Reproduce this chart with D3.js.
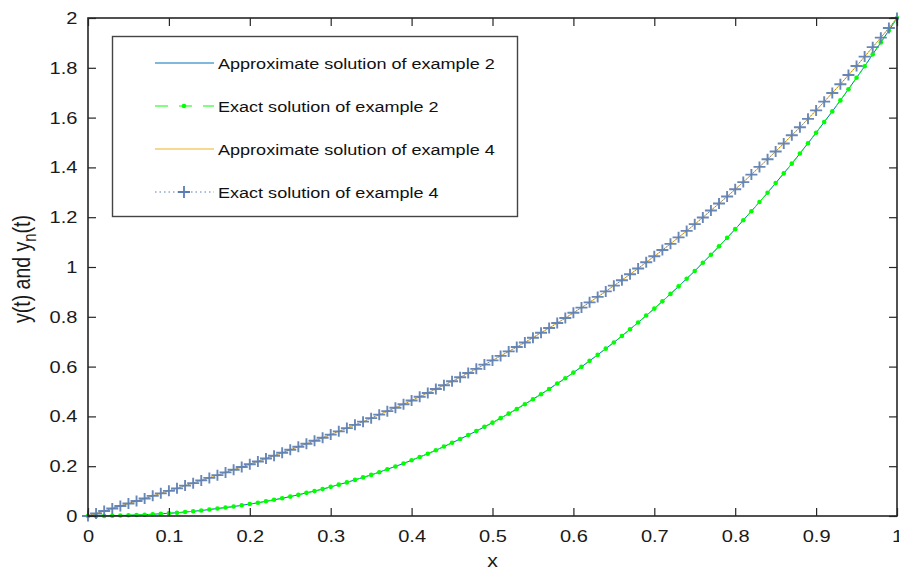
<!DOCTYPE html>
<html>
<head>
<meta charset="utf-8">
<script src="https://cdn.jsdelivr.net/npm/d3@7"></script>
<style>
  html, body { margin: 0; padding: 0; background: #fff; }
  svg { display: block; font-family: "Liberation Sans", Arial, sans-serif; }
</style>
</head>
<body>
<svg id="chart" width="899" height="572"></svg>
<script>
// Sample points t = 0, 0.01, ..., 1
const xs = d3.range(0, 101).map(i => i / 100);

// Example 2 (lower curve)
const exact2 = [
  0.000,0.000,0.000,0.001,0.002,0.003,0.004,0.005,0.007,0.009,
  0.011,0.013,0.016,0.019,0.022,0.026,0.030,0.034,0.038,0.043,
  0.048,0.053,0.059,0.065,0.071,0.078,0.085,0.093,0.100,0.108,
  0.117,0.126,0.135,0.145,0.155,0.165,0.176,0.188,0.199,0.211,
  0.224,0.237,0.250,0.264,0.279,0.294,0.309,0.325,0.341,0.358,
  0.375,0.393,0.411,0.430,0.449,0.469,0.489,0.510,0.532,0.553,
  0.576,0.599,0.623,0.647,0.672,0.697,0.723,0.750,0.777,0.805,
  0.833,0.862,0.892,0.922,0.953,0.984,1.017,1.049,1.083,1.117,
  1.152,1.188,1.224,1.261,1.298,1.337,1.376,1.415,1.456,1.497,
  1.539,1.582,1.625,1.669,1.714,1.760,1.806,1.854,1.902,1.950,
  2.000
];
const approx2 = exact2.slice();

// Example 4 (upper curve)
const exact4 = [
  0.000,0.010,0.020,0.030,0.040,0.050,0.060,0.070,0.081,0.091,
  0.101,0.111,0.122,0.132,0.143,0.153,0.164,0.175,0.186,0.197,
  0.208,0.219,0.231,0.242,0.254,0.266,0.278,0.290,0.302,0.314,
  0.327,0.340,0.353,0.366,0.379,0.393,0.407,0.421,0.435,0.449,
  0.464,0.479,0.494,0.510,0.525,0.541,0.557,0.574,0.591,0.608,
  0.625,0.643,0.661,0.679,0.697,0.716,0.736,0.755,0.775,0.795,
  0.816,0.837,0.858,0.880,0.902,0.925,0.947,0.971,0.994,1.019,
  1.043,1.068,1.093,1.119,1.145,1.172,1.199,1.227,1.255,1.283,
  1.312,1.341,1.371,1.402,1.433,1.464,1.496,1.529,1.561,1.595,
  1.629,1.664,1.699,1.734,1.771,1.807,1.845,1.883,1.921,1.960,
  2.000
];
const approx4 = exact4.slice();

const xTicks = [0, 0.1, 0.2, 0.3, 0.4, 0.5, 0.6, 0.7, 0.8, 0.9, 1];
const yTicks = [0, 0.2, 0.4, 0.6, 0.8, 1, 1.2, 1.4, 1.6, 1.8, 2];
const legendLabels = [
  "Approximate solution of example 2",
  "Exact solution of example 2",
  "Approximate solution of example 4",
  "Exact solution of example 4"
];

const colors = {
  approx2: "#0072BD",
  exact2: "#00FF00",
  approx4: "#EDB120",
  exact4: "#5a7db3"
};

// Text in this figure is drawn slightly wide
const SX = 1.18;

const svg = d3.select("#chart");
const margin = { left: 88, right: 2, top: 18, bottom: 56 };
const W = 899, H = 572;
const x = d3.scaleLinear().domain([0, 1]).range([margin.left, W - margin.right]);
const y = d3.scaleLinear().domain([0, 2]).range([H - margin.bottom, margin.top]);

const toPts = arr => arr.map((v, i) => [xs[i], v]);
const line = d3.line().x(d => x(d[0])).y(d => y(d[1]));

const plot = svg.append("g");

// Example 2: approximate (solid blue) under exact (dashed green with dots)
plot.append("path").attr("d", line(toPts(approx2)))
  .attr("fill", "none").attr("stroke", colors.approx2).attr("stroke-width", 1);
plot.append("path").attr("d", line(toPts(exact2)))
  .attr("fill", "none").attr("stroke", colors.exact2).attr("stroke-width", 1)
  .attr("stroke-dasharray", "6,4");
plot.append("g").selectAll("circle").data(toPts(exact2)).join("circle")
  .attr("cx", d => x(d[0])).attr("cy", d => y(d[1])).attr("r", 2.3)
  .attr("fill", colors.exact2);

// Example 4: approximate (solid orange) under exact (dotted with + markers)
plot.append("path").attr("d", line(toPts(approx4)))
  .attr("fill", "none").attr("stroke", colors.approx4).attr("stroke-width", 1);
plot.append("path").attr("d", line(toPts(exact4)))
  .attr("fill", "none").attr("stroke", colors.exact4).attr("stroke-width", 1)
  .attr("stroke-dasharray", "1,2");
plot.append("g").selectAll("path").data(toPts(exact4)).join("path")
  .attr("transform", d => `translate(${x(d[0])},${y(d[1])})`)
  .attr("d", "M-6,0H6M0,-5.5V5.5")
  .attr("stroke", colors.exact4).attr("stroke-width", 1.9).attr("fill", "none")
  .attr("opacity", 0.92);

// Axes box with inward ticks on all four sides
const tickLen = 8;
const axisColor = "#262626";
const axes = svg.append("g");
axes.append("rect")
  .attr("x", x(0)).attr("y", y(2))
  .attr("width", x(1) - x(0)).attr("height", y(0) - y(2))
  .attr("fill", "none").attr("stroke", axisColor).attr("stroke-width", 1.6);

const bottomAxis = d3.axisBottom(x).tickValues(xTicks).tickSize(-tickLen)
  .tickPadding(14).tickFormat(d3.format("~g"));
const topAxis = d3.axisTop(x).tickValues(xTicks).tickSize(-tickLen).tickFormat("");
const leftAxis = d3.axisLeft(y).tickValues(yTicks).tickSize(-tickLen)
  .tickPadding(9).tickFormat(d3.format("~g"));
const rightAxis = d3.axisRight(y).tickValues(yTicks).tickSize(-tickLen).tickFormat("");

function styleAxis(g) {
  g.select(".domain").remove();
  g.selectAll(".tick line").attr("stroke", axisColor).attr("stroke-width", 1.2);
  g.selectAll(".tick text").attr("fill", "#1a1a1a")
    .attr("transform", `scale(${SX},1)`)
    .style("font-size", "17px").style("font-family", "'Liberation Sans', Arial, sans-serif");
}
axes.append("g").attr("transform", `translate(0,${y(0)})`).call(bottomAxis).call(styleAxis);
axes.append("g").attr("transform", `translate(0,${y(2)})`).call(topAxis).call(styleAxis);
axes.append("g").attr("transform", `translate(${x(0)},0)`).call(leftAxis).call(styleAxis);
axes.append("g").attr("transform", `translate(${x(1)},0)`).call(rightAxis).call(styleAxis);

// Axis titles
svg.append("text")
  .attr("transform", `translate(${(x(0) + x(1)) / 2},567) scale(${SX},1)`)
  .attr("text-anchor", "middle").attr("fill", "#1a1a1a")
  .style("font-size", "18px").text("x");

const yl = svg.append("text")
  .attr("transform", `translate(30,${(y(0) + y(2)) / 2 + 2}) scale(${SX},1) rotate(-90)`)
  .attr("text-anchor", "middle").attr("fill", "#1a1a1a")
  .style("font-size", "19.5px");
yl.append("tspan").text("y(t) and y");
yl.append("tspan").attr("dy", 5).style("font-size", "15px").text("n");
yl.append("tspan").attr("dy", -5).text("(t)");

// Legend
const lg = svg.append("g");
lg.append("rect")
  .attr("x", 112.5).attr("y", 36.5).attr("width", 405).attr("height", 180)
  .attr("fill", "#fff").attr("stroke", "#444").attr("stroke-width", 1.4);
const rowY = [63, 106, 149, 192];
const sx0 = 155, sx1 = 214;
// row 1: blue solid
lg.append("line").attr("x1", sx0).attr("x2", sx1).attr("y1", rowY[0]).attr("y2", rowY[0])
  .attr("stroke", colors.approx2).attr("stroke-width", 1);
// row 2: green dashed with dot
lg.append("line").attr("x1", sx0).attr("x2", sx1).attr("y1", rowY[1]).attr("y2", rowY[1])
  .attr("stroke", colors.exact2).attr("stroke-width", 1).attr("stroke-dasharray", "13,11");
lg.append("circle").attr("cx", 184).attr("cy", rowY[1]).attr("r", 2.3)
  .attr("fill", colors.exact2);
// row 3: orange solid
lg.append("line").attr("x1", sx0).attr("x2", sx1).attr("y1", rowY[2]).attr("y2", rowY[2])
  .attr("stroke", colors.approx4).attr("stroke-width", 1);
// row 4: dotted with +
lg.append("line").attr("x1", sx0).attr("x2", sx1).attr("y1", rowY[3]).attr("y2", rowY[3])
  .attr("stroke", colors.exact4).attr("stroke-width", 1).attr("stroke-dasharray", "1.5,3");
lg.append("path").attr("transform", `translate(184,${rowY[3]})`)
  .attr("d", "M-6,0H6M0,-6V6").attr("stroke", colors.exact4).attr("stroke-width", 1.8);

lg.selectAll("text.lbl").data(legendLabels).join("text")
  .attr("class", "lbl")
  .attr("transform", (d, i) => `translate(218,${rowY[i] + 6}) scale(${SX},1)`)
  .attr("fill", "#111").style("font-size", "15.3px")
  .text(d => d);
</script>
</body>
</html>
